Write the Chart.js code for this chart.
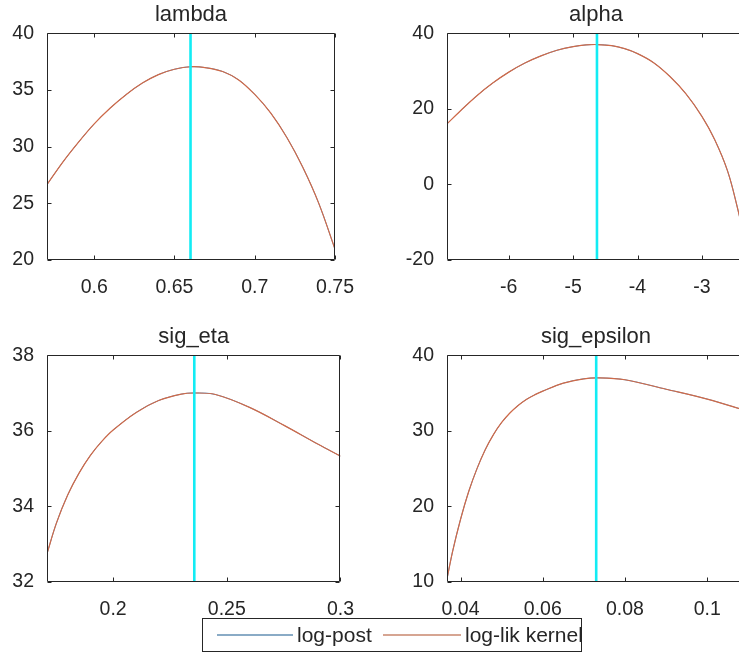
<!DOCTYPE html>
<html lang="en">
<head>
  <meta charset="UTF-8" />
  <title>mode check</title>
  <script src="https://cdn.jsdelivr.net/npm/chart.js"></script>
  <style>
    html, body { margin: 0; padding: 0; background: #fff; overflow: hidden; }
    #fig { position: relative; width: 739px; height: 654px; overflow: hidden; background: #fff; }
    #fig canvas { position: absolute; }
    #legend {
      position: absolute; left: 202px; top: 618px; width: 380px; height: 34px;
      box-sizing: border-box; border: 1px solid #262626; background: #fff;
      font: 21px "Liberation Sans", Arial, sans-serif; color: #262626; z-index: 5;
    }
    #legend .ln { position: absolute; top: 15px; height: 2px; }
    #legend .tx { position: absolute; top: 4px; line-height: 24px; white-space: nowrap; }
  </style>
</head>
<body>
<div id="fig">
  <canvas id="cLambda" width="370" height="310" style="left:0;top:0"></canvas>
  <canvas id="cAlpha" width="370" height="310" style="left:400px;top:0"></canvas>
  <canvas id="cEta" width="370" height="310" style="left:0;top:322px"></canvas>
  <canvas id="cEps" width="370" height="310" style="left:400px;top:322px"></canvas>
  <div id="legend">
    <div class="ln" style="left:14px;width:76px;background:#8aabc6"></div>
    <div class="tx" style="left:94px">log-post</div>
    <div class="ln" style="left:180px;width:78px;background:#d6a592"></div>
    <div class="tx" style="left:262px">log-lik kernel</div>
  </div>
</div>

<script>
  // parameter grids and log-lik kernel values
  const lambdaX = [0.5706, 0.58, 0.59, 0.6, 0.61, 0.62, 0.63, 0.64, 0.65, 0.66, 0.67, 0.68, 0.69, 0.7, 0.71, 0.72, 0.73, 0.74, 0.75];
  const lambdaY = [26.65, 28.55, 30.35, 32.0, 33.4, 34.6, 35.6, 36.35, 36.82, 37.04, 36.95, 36.62, 35.88, 34.6, 32.95, 30.8, 28.15, 24.95, 20.95];

  const alphaX = [-6.96, -6.75, -6.5, -6.25, -6.0, -5.75, -5.5, -5.25, -5.0, -4.8, -4.63, -4.4, -4.2, -4.0, -3.75, -3.5, -3.25, -3.0, -2.8, -2.6, -2.45, -2.33];
  const alphaY = [16, 19.5, 23.4, 26.8, 29.7, 32.1, 34.0, 35.5, 36.45, 36.9, 37.0, 36.7, 35.9, 34.6, 32.2, 28.6, 24.0, 18.0, 11.8, 3.5, -6, -15];

  const etaX = [0.1709, 0.175, 0.18, 0.185, 0.19, 0.195, 0.2, 0.21, 0.22, 0.23, 0.2357, 0.245, 0.26, 0.275, 0.29, 0.3];
  const etaY = [32.75, 33.55, 34.3, 34.88, 35.35, 35.72, 36.02, 36.48, 36.8, 36.97, 37.0, 36.96, 36.62, 36.15, 35.65, 35.33];

  const epsX = [0.0367, 0.038, 0.04, 0.042, 0.044, 0.046, 0.048, 0.05, 0.052, 0.054, 0.056, 0.058, 0.06, 0.065, 0.07, 0.0735, 0.08, 0.09, 0.1, 0.1092];
  const epsY = [10.4, 13.9, 18.3, 22.0, 25.0, 27.5, 29.5, 31.1, 32.35, 33.35, 34.15, 34.75, 35.25, 36.3, 36.88, 37.0, 36.75, 35.5, 34.2, 32.7];

  // posterior mode of each parameter
  const modes = [0.66, -4.63, 0.2357, 0.073];

  // tick labels
  const lambdaXTicks = [0.6, 0.65, 0.7, 0.75];
  const lambdaYTicks = [20, 25, 30, 35, 40];
  const alphaXTicks = [-6, -5, -4, -3];
  const alphaYTicks = [-20, 0, 20, 40];
  const etaXTicks = [0.2, 0.25, 0.3];
  const etaYTicks = [32, 34, 36, 38];
  const epsXTicks = [0.04, 0.06, 0.08, 0.1];
  const epsYTicks = [10, 20, 30, 40];

  const FONT = '"Liberation Sans", Arial, Helvetica, sans-serif';
  const INK = '#262626';

  // box around the axes with inward tick marks on all four sides
  const boxTicks = {
    id: 'boxTicks',
    afterDatasetsDraw(chart) {
      const { ctx, chartArea: a, scales: { x, y } } = chart;
      const L = Math.round(a.left) + 0.5, R = Math.round(a.right) - 0.5;
      const T = Math.round(a.top) + 0.5, B = Math.round(a.bottom) - 0.5;
      ctx.save();
      ctx.strokeStyle = INK;
      ctx.lineWidth = 1;
      ctx.beginPath();
      ctx.rect(L, T, R - L, B - T);
      x.ticks.forEach(t => {
        const p = Math.round(x.getPixelForValue(t.value)) + 0.5;
        ctx.moveTo(p, B); ctx.lineTo(p, B - 4);
        ctx.moveTo(p, T); ctx.lineTo(p, T + 4);
      });
      y.ticks.forEach(t => {
        const p = Math.round(y.getPixelForValue(t.value)) + 0.5;
        ctx.moveTo(L, p); ctx.lineTo(L + 4, p);
        ctx.moveTo(R, p); ctx.lineTo(R - 4, p);
      });
      ctx.stroke();
      ctx.restore();
    }
  };

  function pts(xs, ys) {
    return xs.map((v, i) => ({ x: v, y: ys[i] }));
  }

  function panel(id, name, xs, ys, mode, xr, yr, xTicks, yTicks) {
    const curve = pts(xs, ys);
    new Chart(document.getElementById(id), {
      type: 'line',
      data: {
        datasets: [
          { label: 'mode', data: [{ x: mode, y: yr[0] }, { x: mode, y: yr[1] }],
            borderColor: '#12ecf4', borderWidth: 2.6 },
          { label: 'log-lik kernel', data: curve, borderColor: '#d06a48', borderWidth: 1.2, tension: 0.35 },
          { label: 'log-post', data: curve, borderColor: '#5b8fc0', borderWidth: 1, tension: 0.35 }
        ]
      },
      options: {
        responsive: false,
        animation: false,
        events: [],
        layout: { padding: { left: 0, right: 25, top: 0, bottom: 0 } },
        elements: { point: { radius: 0 } },
        plugins: {
          legend: { display: false },
          tooltip: { enabled: false },
          title: {
            display: true, text: name, fullSize: false, color: INK,
            font: { family: FONT, size: 22, weight: 'normal', lineHeight: 1.1 },
            padding: { top: 3, bottom: 6 }
          }
        },
        scales: {
          x: {
            type: 'linear', min: xr[0], max: xr[1],
            grid: { display: false, drawTicks: false },
            border: { display: false },
            ticks: { color: INK, font: { family: FONT, size: 19.5 }, padding: 16, maxRotation: 0,
              autoSkip: false, callback: v => String(v) },
            afterBuildTicks: ax => { ax.ticks = xTicks.map(v => ({ value: v })); },
            afterFit: ax => { ax.height = 50; }
          },
          y: {
            min: yr[0], max: yr[1],
            grid: { display: false, drawTicks: false },
            border: { display: false },
            ticks: { color: INK, font: { family: FONT, size: 19.5 }, padding: 13,
              autoSkip: false, callback: v => String(v) },
            afterBuildTicks: ax => { ax.ticks = yTicks.map(v => ({ value: v })); },
            afterFit: ax => { ax.width = 47; }
          }
        }
      },
      plugins: [boxTicks]
    });
  }

  panel('cLambda', 'lambda', lambdaX, lambdaY, modes[0], [0.5706, 0.75], [20, 40], lambdaXTicks, lambdaYTicks);
  panel('cAlpha', 'alpha', alphaX, alphaY, modes[1], [-6.96, -2.33], [-20, 40], alphaXTicks, alphaYTicks);
  panel('cEta', 'sig_eta', etaX, etaY, modes[2], [0.1709, 0.3], [32, 38], etaXTicks, etaYTicks);
  panel('cEps', 'sig_epsilon', epsX, epsY, modes[3], [0.0367, 0.1092], [10, 40], epsXTicks, epsYTicks);
</script>
</body>
</html>
